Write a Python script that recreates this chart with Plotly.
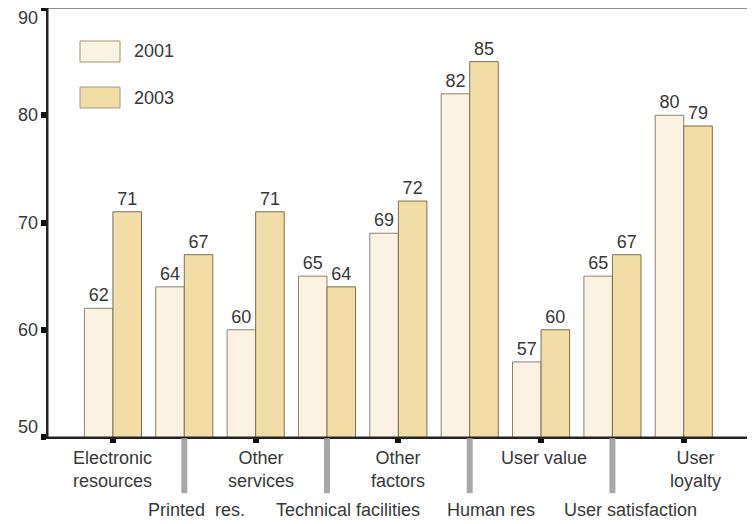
import plotly.graph_objects as go

categories = ["Electronic<br>resources", "Printed  res.", "Other<br>services", "Technical facilities",
              "Other<br>factors", "Human res", "User value", "User satisfaction", "User<br>loyalty"]
values_2001 = [62, 64, 60, 65, 69, 82, 57, 65, 80]
values_2003 = [71, 67, 71, 64, 72, 85, 60, 67, 79]
y_ticks = [50, 60, 70, 80, 90]

FONT = "Liberation Sans, Arial, sans-serif"
TXT = "#383838"
C2001 = "#FBF3E1"
C2003 = "#F2DDA7"
FS = 18

x = list(range(len(categories)))

fig = go.Figure()
fig.add_trace(go.Bar(x=x, y=values_2001, name="2001", marker=dict(color=C2001, line=dict(color="#8c8272", width=1)),
                     text=values_2001, textposition="outside", textfont=dict(size=FS, color=TXT, family=FONT),
                     cliponaxis=False))
fig.add_trace(go.Bar(x=x, y=values_2003, name="2003", marker=dict(color=C2003, line=dict(color="#7d6e55", width=1)),
                     text=values_2003, textposition="outside", textfont=dict(size=FS, color=TXT, family=FONT),
                     cliponaxis=False))

shapes = []
annotations = []
# plot border (top/right)
shapes.append(dict(type="rect", xref="paper", yref="paper", x0=0, x1=1, y0=0, y1=1,
                   line=dict(color="#222", width=1), fillcolor="rgba(0,0,0,0)", layer="above"))

label_shift = {0: 0, 1: 12, 2: 5, 3: 21, 4: 0, 5: 21, 6: 3, 7: 18, 8: 12}
for i, lab in enumerate(categories):
    if i % 2 == 0:
        annotations.append(dict(x=i, y=-0.022, xref="x", yref="paper", text=lab, showarrow=False,
                                yanchor="top", xanchor="center", xshift=label_shift[i],
                                font=dict(size=FS, color=TXT, family=FONT)))
    else:
        shapes.append(dict(type="line", xref="x", yref="paper", x0=i, x1=i, y0=-0.003, y1=-0.131,
                           line=dict(color="#A8A8AB", width=6)))
        annotations.append(dict(x=i, y=-0.143, xref="x", yref="paper", text=lab, showarrow=False,
                                yanchor="top", xanchor="center", xshift=label_shift[i],
                                font=dict(size=FS, color=TXT, family=FONT)))

# y tick labels (end labels nudged inward as in the reference)
tick_nudge = {50: 10, 90: -10}
for v in y_ticks:
    annotations.append(dict(x=0, y=v, xref="paper", yref="y", text=str(v), showarrow=False,
                            xanchor="right", yanchor="middle", xshift=-8, yshift=tick_nudge.get(v, 0),
                            font=dict(size=FS, color=TXT, family=FONT)))

# custom legend
legend_items = [("2001", C2001, "#A8906A"), ("2003", C2003, "#9a9a9a")]
for k, (name, fill, border) in enumerate(legend_items):
    y_top = 1 - (33 + 46 * k) / 429
    y_bot = y_top - 21 / 429
    shapes.append(dict(type="rect", xref="paper", yref="paper", x0=32 / 700, x1=72 / 700, y0=y_bot, y1=y_top,
                       fillcolor=fill, line=dict(color=border, width=1)))
    annotations.append(dict(x=84 / 700, y=(y_top + y_bot) / 2, xref="paper", yref="paper", text=name,
                            showarrow=False, xanchor="left", yanchor="middle",
                            font=dict(size=FS, color=TXT, family=FONT)))

fig.update_layout(
    width=747, height=516,
    margin=dict(l=40, r=7, t=0, b=87),
    paper_bgcolor="white", plot_bgcolor="white",
    barmode="group", bargap=0.2, bargroupgap=0,
    showlegend=False,
    shapes=shapes, annotations=annotations,
    font=dict(family=FONT, color=TXT, size=FS),
    xaxis=dict(range=[-0.91, 8.9], tickvals=[0, 2, 4, 6, 8], ticktext=["", "", "", "", ""],
               ticks="outside", ticklen=4, tickwidth=6, tickcolor="#111",
               showline=True, linecolor="#222", linewidth=1.5, showgrid=False, zeroline=False),
    yaxis=dict(range=[50, 90], tickvals=y_ticks, ticktext=["", "", "", "", ""],
               ticks="outside", ticklen=5, tickwidth=6, tickcolor="#111",
               showline=True, linecolor="#222", linewidth=2, showgrid=False, zeroline=False),
)

fig.write_html("out.html")
